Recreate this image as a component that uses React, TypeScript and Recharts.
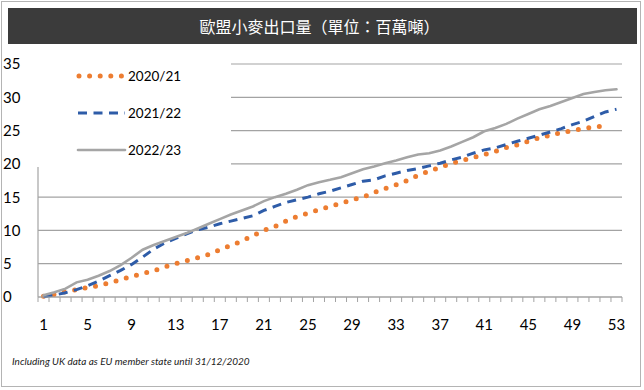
import { LineChart, Line, XAxis, YAxis, CartesianGrid, Legend } from "recharts";

// week numbers (marketing year weeks)
const weeks = [
  1, 2, 3, 4, 5, 6, 7, 8, 9, 10, 11, 12, 13, 14, 15, 16, 17, 18, 19, 20,
  21, 22, 23, 24, 25, 26, 27, 28, 29, 30, 31, 32, 33, 34, 35, 36, 37, 38, 39, 40,
  41, 42, 43, 44, 45, 46, 47, 48, 49, 50, 51, 52, 53,
];

// cumulative exports, million tonnes
const exp2020 = [
  0.1, 0.4, 0.8, 1.1, 1.45, 1.7, 2.15, 2.6, 3.1, 3.5, 3.95, 4.5, 5.0, 5.45, 5.9, 6.4, 7.1, 7.75, 8.4, 9.2,
  10.0, 10.6, 11.4, 12.1, 12.6, 13.1, 13.6, 14.1, 14.6, 15.0, 15.7, 16.3, 16.85, 17.5, 18.3, 18.9, 19.5, 20.05, 20.5, 20.95,
  21.4, 21.85, 22.45, 22.85, 23.4, 23.9, 24.3, 24.7, 25.0, 25.3, 25.55, 25.65,
];
const exp2021 = [
  0.05, 0.3, 0.65, 1.1, 1.7, 2.4, 3.2, 4.0, 4.9, 6.0, 7.2, 8.1, 8.8, 9.5, 10.1, 10.5, 11.0, 11.4, 11.8, 12.2,
  13.0, 13.6, 14.2, 14.6, 15.0, 15.5, 15.9, 16.4, 16.9, 17.4, 17.6, 18.2, 18.6, 19.0, 19.3, 19.7, 20.1, 20.6, 21.0, 21.6,
  22.1, 22.4, 22.9, 23.4, 23.85, 24.3, 24.8, 25.3, 25.9, 26.4, 27.1, 27.8, 28.2,
];
const exp2022 = [
  0.25, 0.7, 1.25, 2.2, 2.6, 3.2, 3.9, 4.8, 5.9, 7.1, 7.8, 8.4, 9.0, 9.6, 10.3, 11.0, 11.7, 12.4, 13.0, 13.6,
  14.4, 15.0, 15.5, 16.1, 16.8, 17.25, 17.6, 18.0, 18.6, 19.2, 19.6, 20.1, 20.5, 21.0, 21.4, 21.6, 22.0, 22.6, 23.3, 24.0,
  24.9, 25.4, 26.0, 26.8, 27.5, 28.2, 28.7, 29.3, 29.9, 30.5, 30.8, 31.05, 31.2,
];

const xTickLabels = [1, 5, 9, 13, 17, 21, 25, 29, 33, 37, 41, 45, 49, 53];
const yTicks = [0, 5, 10, 15, 20, 25, 30, 35];

const data = weeks.map((w, i) => ({
  week: w,
  "2020/21": exp2020[i] ?? null,
  "2021/22": exp2021[i] ?? null,
  "2022/23": exp2022[i] ?? null,
}));

const series = [
  { key: "2020/21", color: "#ED7D31", width: 5, dash: "0 10.6", cap: "round" as const },
  { key: "2021/22", color: "#2E5CA8", width: 3, dash: "9 6.5", cap: "butt" as const },
  { key: "2022/23", color: "#A5A5A5", width: 2.6, dash: undefined, cap: "round" as const },
];

const FONT = "Lato, 'Noto Sans', sans-serif";
const GRID = "#a3a3a3";

// category boundaries get small tick marks, label weeks get text
const boundaryTicks = [...weeks.map((w) => w - 0.5), weeks[weeks.length - 1] + 0.5];
const xTicks = [...boundaryTicks, ...xTickLabels].sort((a, b) => a - b);

const XTick = (props: any) => {
  const { x, y, payload } = props;
  const v = payload.value;
  if (Number.isInteger(v)) {
    return (
      <text x={x} y={y + 33} textAnchor="middle" fontSize={15} fontFamily={FONT} fill="#000">
        {v}
      </text>
    );
  }
  return <line x1={x} x2={x} y1={y} y2={y + 5} stroke={GRID} strokeWidth={1} />;
};

const YTick = (props: any) => {
  const { y, payload } = props;
  return (
    <text x={3} y={y} dy="0.36em" fontSize={15} fontFamily={FONT} fill="#000">
      {payload.value}
    </text>
  );
};

const LegendBox = () => (
  <svg width={201} height={111}>
    {series.map((s, i) => {
      const cy = 20 + i * 37;
      return (
        <g key={s.key}>
          <line
            x1={s.cap === "round" && s.dash ? 49 : 48}
            x2={95}
            y1={cy}
            y2={cy}
            stroke={s.color}
            strokeWidth={s.width}
            strokeDasharray={s.dash}
            strokeLinecap={s.cap}
          />
          <text x={98} y={cy} dy="0.36em" fontSize={13.5} fontFamily={FONT} fill="#000">
            {s.key}
          </text>
        </g>
      );
    })}
  </svg>
);

export default function App() {
  return (
    <div style={{ position: "absolute", left: 0, top: 0, width: 644, height: 390, background: "#fff" }}>
      <div
        style={{
          position: "absolute",
          left: 1,
          top: 1,
          width: 638,
          height: 384,
          border: "1px solid #b4b4b4",
        }}
      />
      <LineChart
        width={644}
        height={390}
        data={data}
        margin={{ top: 64, right: 22, bottom: 63, left: 0 }}
        style={{ position: "absolute", left: 0, top: 0 }}
      >
        <CartesianGrid vertical={false} stroke={GRID} strokeWidth={1.2} />
        <XAxis
          dataKey="week"
          type="number"
          domain={[0.5, 53.5]}
          ticks={xTicks}
          interval={0}
          tick={<XTick />}
          tickLine={false}
          tickSize={0}
          tickMargin={0}
          height={30}
          axisLine={{ stroke: GRID, strokeWidth: 1.2 }}
        />
        <YAxis
          domain={[0, 35]}
          ticks={yTicks}
          interval={0}
          width={38}
          tick={<YTick />}
          tickLine={false}
          axisLine={{ stroke: GRID, strokeWidth: 1.2 }}
        />
        <Legend
          layout="vertical"
          align="center"
          verticalAlign="middle"
          content={<LegendBox />}
          wrapperStyle={{ left: 30, top: 56, width: 201, height: 111, background: "#fff" }}
        />
        {series.map((s) => (
          <Line
            key={s.key}
            type="linear"
            dataKey={s.key}
            stroke={s.color}
            strokeWidth={s.width}
            strokeDasharray={s.dash}
            strokeLinecap={s.cap}
            dot={false}
            activeDot={false}
            isAnimationActive={false}
          />
        ))}
      </LineChart>
      <div
        style={{
          position: "absolute",
          left: 8,
          top: 8,
          width: 629,
          height: 36,
          background: "#3b3b3b",
          color: "#fff",
          fontFamily: "'Noto Sans CJK TC', sans-serif",
          fontSize: 16,
          lineHeight: "36px",
          textAlign: "center",
          paddingRight: 6,
          boxSizing: "border-box",
        }}
      >
        歐盟小麥出口量（單位：百萬噸）
      </div>
      <div
        style={{
          position: "absolute",
          left: 12,
          top: 355,
          fontFamily: FONT,
          fontStyle: "italic",
          fontSize: 10,
          color: "#222",
          whiteSpace: "nowrap",
        }}
      >
        Including UK data as EU member state until 31/12/2020
      </div>
    </div>
  );
}
